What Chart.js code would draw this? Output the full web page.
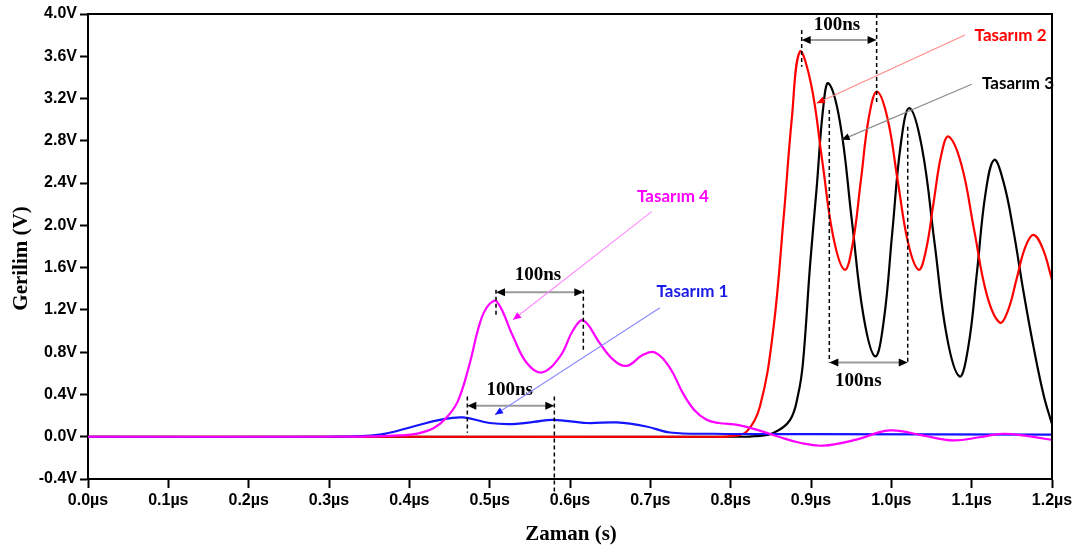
<!DOCTYPE html>
<html>
<head>
<meta charset="utf-8">
<script src="https://cdn.jsdelivr.net/npm/chart.js@4.4.1/dist/chart.umd.min.js"></script>
<style>
  html, body { margin: 0; padding: 0; background: #fff; }
  #wrap { width: 1080px; height: 551px; position: relative; }
</style>
</head>
<body>
<div id="wrap"><canvas id="gerilim-chart"></canvas></div>
<script>
// time in µs, voltage in V
const T4_TIME = [0, 0.30, 0.35, 0.388, 0.41, 0.43, 0.445, 0.46, 0.474, 0.488, 0.498, 0.5088, 0.529, 0.546, 0.5648, 0.5876, 0.604, 0.6166, 0.637, 0.654, 0.6706, 0.691, 0.7058, 0.7245, 0.74, 0.755, 0.77, 0.785, 0.81, 0.835, 0.86, 0.886, 0.915, 0.955, 0.998, 1.04, 1.077, 1.11, 1.139, 1.17, 1.2]
const T4_VOLT = [0, 0, 0.003, 0.012, 0.03, 0.08, 0.17, 0.33, 0.66, 1.08, 1.24, 1.279, 0.95, 0.70, 0.608, 0.76, 1.01, 1.10, 0.886, 0.728, 0.671, 0.775, 0.797, 0.65, 0.42, 0.25, 0.16, 0.13, 0.11, 0.06, 0.0, -0.057, -0.085, -0.03, 0.06, 0.01, -0.035, -0.005, 0.028, 0.005, -0.03]

const T1_TIME = [0, 0.30, 0.363, 0.405, 0.438, 0.467, 0.50, 0.529, 0.555, 0.579, 0.621, 0.658, 0.695, 0.7245, 0.778, 0.9, 1.2]
const T1_VOLT = [0, 0, 0.02, 0.097, 0.16, 0.183, 0.13, 0.12, 0.14, 0.16, 0.13, 0.135, 0.097, 0.04, 0.028, 0.025, 0.02]

const T2_TIME = [0, 0.40, 0.78, 0.80, 0.820, 0.8366, 0.853, 0.866, 0.876, 0.886, 0.900, 0.914, 0.928, 0.942, 0.952, 0.962, 0.972, 0.982, 0.995, 1.008, 1.021, 1.034, 1.043, 1.0525, 1.062, 1.071, 1.087, 1.103, 1.119, 1.135, 1.1455, 1.156, 1.1665, 1.177, 1.1885, 1.2]
const T2_VOLT = [0, 0, 0, 0.005, 0.05, 0.29, 1.01, 2.08, 3.0, 3.643, 3.34, 2.61, 1.88, 1.58, 1.83, 2.42, 3.02, 3.265, 3.02, 2.42, 1.83, 1.58, 1.76, 2.21, 2.66, 2.84, 2.58, 1.96, 1.34, 1.08, 1.2, 1.495, 1.79, 1.91, 1.78, 1.485]

const T3_TIME = [0, 0.40, 0.81, 0.83, 0.853, 0.874, 0.884, 0.890, 0.899, 0.907, 0.915, 0.9216, 0.9362, 0.9508, 0.9654, 0.980, 0.9906, 1.0012, 1.0118, 1.0224, 1.038, 1.0537, 1.0693, 1.085, 1.0958, 1.1065, 1.1172, 1.128, 1.140, 1.152, 1.165, 1.177, 1.19, 1.2]
const T3_VOLT = [0, 0, 0, 0.005, 0.035, 0.16, 0.40, 0.70, 1.64, 2.35, 3.10, 3.345, 2.97, 2.05, 1.14, 0.76, 1.10, 1.935, 2.77, 3.11, 2.74, 1.84, 0.94, 0.57, 0.85, 1.55, 2.30, 2.62, 2.40, 1.95, 1.35, 0.85, 0.38, 0.12]

const SERIES_NAMES = ['Tasarım 4', 'Tasarım 1', 'Tasarım 2', 'Tasarım 3']

const X_MIN = 0, X_MAX = 1.2, X_STEP = 0.1
const Y_MIN = -0.4, Y_MAX = 4.0, Y_STEP = 0.4

const COLORS = ['#ff00ff', '#1414ff', '#ff0000', '#000000']
const CALLOUT_LINE_COLORS = ['#ff8cff', '#8c8cff', '#ff8c8c', '#8c8c8c']
const CALLOUT_TEXT_COLORS = ['#ff00ff', '#1a1ae6', '#ff0000', '#000000']

// callout anchors in axis units: label centre, line start, arrow tip
const CALLOUTS = [
    { text: [0.7282, 2.270], from: [0.7017, 2.130], to: [0.5291, 1.106] },
    { text: [0.7525, 1.374], from: [0.712, 1.220], to: [0.5066, 0.208] },
    { text: [1.1484, 3.795], from: [1.0917, 3.801], to: [0.9071, 3.156] },
    { text: [1.1577, 3.345], from: [1.100, 3.335], to: [0.9382, 2.809] }
]

// "100ns" period markers: x of both dashed lines, arrow level, dashed extents, label centre
const SPANS = [
    { x0: 0.5079, x1: 0.6166, y: 1.368, left: [1.39, 1.125], right: [1.39, 0.823], label: [0.5602, 1.532] },
    { x0: 0.4722, x1: 0.5805, y: 0.293, left: [0.381, 0.038], right: [0.381, -0.52], label: [0.525, 0.444] },
    { x0: 0.8884, x1: 0.9817, y: 3.754, left: [3.849, 3.502], right: [4.0, 3.139], label: [0.9324, 3.896] },
    { x0: 0.9228, x1: 1.0204, y: 0.703, left: [3.092, 0.703], right: [2.934, 0.703], label: [0.9589, 0.523] }
]
const SPAN_TEXT = '100ns'

function toPoints(times, volts) {
    return times.map((t, i) => ({ x: t, y: volts[i] }))
}

function arrowHead(ctx, x, y, angle, len, half) {
    ctx.save()
    ctx.translate(x, y)
    ctx.rotate(angle)
    ctx.beginPath()
    ctx.moveTo(0, 0)
    ctx.lineTo(-len, -half)
    ctx.lineTo(-len, half)
    ctx.closePath()
    ctx.fill()
    ctx.restore()
}

const annotationPlugin = {
    id: 'annotations',
    afterDatasetsDraw(chart) {
        const ctx = chart.ctx
        const xs = chart.scales.x
        const ys = chart.scales.y
        const px = v => xs.getPixelForValue(v)
        const py = v => ys.getPixelForValue(v)
        const area = chart.chartArea

        ctx.save()

        // top and right frame lines
        ctx.strokeStyle = '#000'
        ctx.lineWidth = 2
        ctx.beginPath()
        ctx.moveTo(area.left, area.top)
        ctx.lineTo(area.right, area.top)
        ctx.lineTo(area.right, area.bottom)
        ctx.stroke()

        // period markers
        SPANS.forEach(s => {
            const xa = px(s.x0), xb = px(s.x1), ya = py(s.y)
            ctx.setLineDash([4, 3])
            ctx.strokeStyle = '#000'
            ctx.lineWidth = 1.5
            ctx.beginPath()
            ctx.moveTo(xa, py(s.left[0])); ctx.lineTo(xa, py(s.left[1]))
            ctx.moveTo(xb, py(s.right[0])); ctx.lineTo(xb, py(s.right[1]))
            ctx.stroke()
            ctx.setLineDash([])
            ctx.strokeStyle = '#9a9a9a'
            ctx.lineWidth = 2
            ctx.beginPath()
            ctx.moveTo(xa + 6, ya); ctx.lineTo(xb - 6, ya)
            ctx.stroke()
            ctx.fillStyle = '#000'
            arrowHead(ctx, xa, ya, Math.PI, 9, 4)
            arrowHead(ctx, xb, ya, 0, 9, 4)
            ctx.font = 'bold 19px "Liberation Serif"'
            ctx.textAlign = 'center'
            ctx.textBaseline = 'middle'
            ctx.fillText(SPAN_TEXT, px(s.label[0]), py(s.label[1]))
        })

        // series callouts
        CALLOUTS.forEach((c, i) => {
            const x0 = px(c.from[0]), y0 = py(c.from[1])
            const x1 = px(c.to[0]), y1 = py(c.to[1])
            ctx.strokeStyle = CALLOUT_LINE_COLORS[i]
            ctx.lineWidth = 1.2
            ctx.beginPath()
            ctx.moveTo(x0, y0); ctx.lineTo(x1, y1)
            ctx.stroke()
            ctx.fillStyle = COLORS[i]
            arrowHead(ctx, x1, y1, Math.atan2(y1 - y0, x1 - x0), 8, 3.5)
            ctx.fillStyle = CALLOUT_TEXT_COLORS[i]
            ctx.font = 'bold 17px Lato'
            ctx.textAlign = 'center'
            ctx.textBaseline = 'middle'
            ctx.fillText(SERIES_NAMES[i], px(c.text[0]), py(c.text[1]))
        })

        // axis titles
        ctx.fillStyle = '#000'
        ctx.font = 'bold 21px "Liberation Serif"'
        ctx.textAlign = 'center'
        ctx.textBaseline = 'middle'
        ctx.fillText('Zaman (s)', (area.left + area.right) / 2 + 1, 535)
        ctx.translate(22, (area.top + area.bottom) / 2 + 12)
        ctx.rotate(-Math.PI / 2)
        ctx.fillText('Gerilim (V)', 0, 0)

        ctx.restore()
    }
}

Chart.register(annotationPlugin)

const el = document.getElementById('gerilim-chart')

const data = {
    datasets: [
        { label: SERIES_NAMES[0], data: toPoints(T4_TIME, T4_VOLT), borderColor: COLORS[0] },
        { label: SERIES_NAMES[1], data: toPoints(T1_TIME, T1_VOLT), borderColor: COLORS[1] },
        { label: SERIES_NAMES[2], data: toPoints(T2_TIME, T2_VOLT), borderColor: COLORS[2] },
        { label: SERIES_NAMES[3], data: toPoints(T3_TIME, T3_VOLT), borderColor: COLORS[3] }
    ].map(d => Object.assign(d, {
        borderWidth: 2.2,
        pointRadius: 0,
        tension: 0.4,
        fill: false
    }))
}

const tickFont = { family: '"Liberation Sans", Arial, sans-serif', size: 16, weight: 'bold' }

const config = {
    type: 'line',
    data: data,
    options: {
        responsive: true,
        maintainAspectRatio: false,
        animation: false,
        layout: { padding: { top: 14, right: 28, left: 0, bottom: 0 } },
        plugins: {
            legend: { display: false },
            tooltip: { enabled: false }
        },
        scales: {
            x: {
                type: 'linear',
                min: X_MIN,
                max: X_MAX,
                grid: { drawOnChartArea: false, drawTicks: true, tickLength: 9, tickWidth: 2, tickColor: '#000' },
                border: { display: true, color: '#000', width: 2 },
                ticks: {
                    stepSize: X_STEP,
                    color: '#000',
                    font: tickFont,
                    padding: 3,
                    maxRotation: 0,
                    callback: v => v.toFixed(1) + 'µs'
                },
                afterFit: scale => { scale.height = 72 }
            },
            y: {
                min: Y_MIN,
                max: Y_MAX,
                grid: { drawOnChartArea: false, drawTicks: true, tickLength: 8, tickWidth: 2, tickColor: '#000' },
                border: { display: true, color: '#000', width: 2 },
                ticks: {
                    stepSize: Y_STEP,
                    color: '#000',
                    font: tickFont,
                    padding: 3,
                    callback: v => (Math.abs(v) < 1e-9 ? 0 : v).toFixed(1) + 'V'
                },
                afterFit: scale => { scale.width = 88 }
            }
        }
    }
}

const chart = new Chart(el, config)
</script>
</body>
</html>
